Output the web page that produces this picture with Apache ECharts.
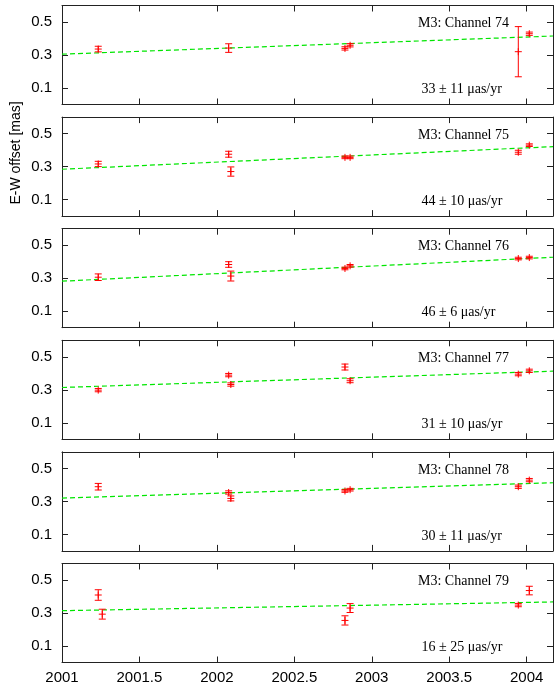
<!DOCTYPE html>
<html>
<head>
<meta charset="utf-8">
<script src="https://cdn.jsdelivr.net/npm/echarts@6/dist/echarts.min.js"></script>
<style>
html,body{margin:0;padding:0;background:#fff;}
#chart{width:554px;height:693px;}
</style>
</head>
<body>
<div id="chart"></div>
<script>
// ---- data ----
const epochs = [2001.234, 2001.26, 2002.076, 2002.09, 2002.827, 2002.86, 2003.946, 2004.017];

const channelNames = ['M3: Channel 74', 'M3: Channel 75', 'M3: Channel 76', 'M3: Channel 77', 'M3: Channel 78', 'M3: Channel 79'];
const rateLabels = ['33 ± 11 μas/yr', '44 ± 10 μas/yr', '46 ± 6 μas/yr', '31 ± 10 μas/yr', '30 ± 11 μas/yr', '16 ± 25 μas/yr'];

const ch74Values = [0.336, null, 0.342, null, 0.340, 0.359, 0.320, 0.429];
const ch74Errors = [0.017, null, 0.026, null, 0.010, 0.010, 0.152, 0.010];
const ch75Values = [0.316, null, 0.375, 0.270, 0.356, 0.356, 0.387, 0.430];
const ch75Errors = [0.016, null, 0.018, 0.028, 0.008, 0.008, 0.012, 0.008];
const ch76Values = [0.306, null, 0.383, 0.313, 0.359, 0.375, 0.419, 0.425];
const ch76Errors = [0.020, null, 0.017, 0.030, 0.008, 0.008, 0.008, 0.008];
const ch77Values = [0.298, null, 0.389, 0.332, 0.438, 0.355, 0.395, 0.415];
const ch77Errors = [0.010, null, 0.010, 0.010, 0.018, 0.012, 0.010, 0.010];
const ch78Values = [0.389, null, 0.354, 0.318, 0.363, 0.371, 0.389, 0.429];
const ch78Errors = [0.020, null, 0.010, 0.015, 0.008, 0.008, 0.010, 0.010];
const ch79Values = [0.409, 0.293, null, null, 0.255, 0.330, 0.348, 0.436];
const ch79Errors = [0.032, 0.030, null, null, 0.028, 0.027, 0.010, 0.026];

// linear fit end points (value at xMin and at xMax)
const fitStart = [0.305, 0.284, 0.282, 0.314, 0.320, 0.314];
const fitEnd   = [0.415, 0.421, 0.427, 0.413, 0.413, 0.367];

const xMin = 2001, xMax = 2004.17;
const xTicks = [2001, 2001.5, 2002, 2002.5, 2003, 2003.5, 2004];
const yTicks = [0.1, 0.3, 0.5];

const allValues = [ch74Values, ch75Values, ch76Values, ch77Values, ch78Values, ch79Values];
const allErrors = [ch74Errors, ch75Errors, ch76Errors, ch77Errors, ch78Errors, ch79Errors];

// ---- layout ----
const gridLeft = 62, gridRight = 1, gridH = 99, top0 = 5.5, step = 111.6;
const axisColor = '#222';
const font = 'Liberation Sans';

const chart = echarts.init(document.getElementById('chart'), null, {renderer: 'canvas'});

const grids = [], xAxes = [], yAxes = [], series = [], graphics = [];

function renderErr(params, api) {
  const x = api.value(0), y = api.value(1), e = api.value(2);
  const p = api.coord([x, y]);
  const hi = api.coord([x, y + e]);
  const lo = api.coord([x, y - e]);
  const w = 3.5;
  const st = {stroke: '#ff0000', lineWidth: 1};
  return {type: 'group', children: [
    {type: 'line', shape: {x1: p[0], y1: hi[1], x2: p[0], y2: lo[1]}, style: st},
    {type: 'line', shape: {x1: p[0] - w, y1: hi[1], x2: p[0] + w, y2: hi[1]}, style: st},
    {type: 'line', shape: {x1: p[0] - w, y1: lo[1], x2: p[0] + w, y2: lo[1]}, style: st},
    {type: 'line', shape: {x1: p[0] - w, y1: p[1], x2: p[0] + w, y2: p[1]}, style: st},
    {type: 'line', shape: {x1: p[0], y1: p[1] - w, x2: p[0], y2: p[1] + w}, style: st}
  ]};
}

for (let i = 0; i < 6; i++) {
  const top = top0 + step * i;
  grids.push({left: gridLeft, right: gridRight, top: top, height: gridH, show: false});
  const isLast = i === 5;
  const xBase = {
    type: 'value', gridIndex: i, min: xMin, max: xMax, interval: 0.5,
    axisLine: {show: true, onZero: false, lineStyle: {color: axisColor, width: 1}},
    axisTick: {show: true, inside: true, length: 6, customValues: xTicks, lineStyle: {color: axisColor}},
    splitLine: {show: false}
  };
  xAxes.push(Object.assign({}, xBase, {
    position: 'bottom',
    axisLabel: {show: isLast, customValues: xTicks, color: '#000', fontFamily: font, fontSize: 15, margin: 8,
      formatter: v => String(v)}
  }));
  xAxes.push(Object.assign({}, xBase, {position: 'top', axisLabel: {show: false}}));
  const yBase = {
    type: 'value', gridIndex: i, min: 0, max: 0.6, interval: 0.1,
    axisLine: {show: true, onZero: false, lineStyle: {color: axisColor, width: 1}},
    axisTick: {show: true, inside: true, length: 6, customValues: yTicks, lineStyle: {color: axisColor}},
    splitLine: {show: false}
  };
  yAxes.push(Object.assign({}, yBase, {
    position: 'left',
    axisLabel: {show: true, customValues: yTicks, color: '#000', fontFamily: font, fontSize: 15, margin: 10,
      formatter: v => v.toFixed(1)}
  }));
  yAxes.push(Object.assign({}, yBase, {position: 'right', axisLabel: {show: false}}));

  const pts = [];
  epochs.forEach((t, k) => {
    if (allValues[i][k] !== null) pts.push([t, allValues[i][k], allErrors[i][k]]);
  });

  series.push({
    type: 'line', xAxisIndex: 2 * i, yAxisIndex: 2 * i,
    data: [[xMin, fitStart[i]], [xMax, fitEnd[i]]],
    showSymbol: false, symbol: 'none', silent: true,
    lineStyle: {color: '#00e600', width: 1.2, type: [5, 3]},
    z: 2
  });
  series.push({
    type: 'custom', xAxisIndex: 2 * i, yAxisIndex: 2 * i,
    data: pts, renderItem: renderErr, z: 3, clip: false
  });

  graphics.push({
    type: 'text', left: 418, top: top + 19 - 8,
    style: {text: channelNames[i], font: '14px "Liberation Serif"', fill: '#000'}
  });
  graphics.push({
    type: 'text', left: 421.5, top: top + 85 - 8,
    style: {text: rateLabels[i], font: '14px "Liberation Serif"', fill: '#000'}
  });
}

graphics.push({
  type: 'text', x: 16, y: 153, rotation: Math.PI / 2,
  style: {text: 'E-W offset [mas]', font: '14px "Liberation Sans"', fill: '#000', align: 'center', verticalAlign: 'middle'}
});

chart.setOption({
  animation: false,
  backgroundColor: '#fff',
  grid: grids,
  xAxis: xAxes,
  yAxis: yAxes,
  series: series,
  graphic: graphics
});
</script>
</body>
</html>
